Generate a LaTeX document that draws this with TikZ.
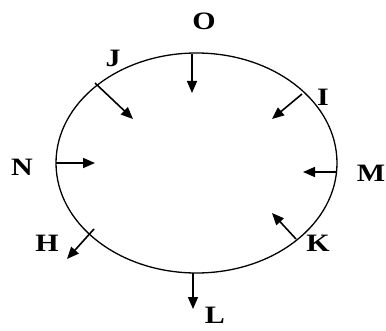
\documentclass[tikz,border=0pt]{standalone}
\usepackage{fontspec}
\setmainfont{Liberation Serif}
\usetikzlibrary{arrows.meta}
\tikzset{
  lbl/.style={inner sep=0pt, font=\fontsize{25}{25}\selectfont\bfseries},
  arr/.style={line width=1.6pt, -{Triangle[length=12pt,width=10pt]}},
  oval/.style={line width=1.3pt}
}
\newcommand{\wl}[1]{\scalebox{1.2}[1]{#1}}
\begin{document}
\begin{tikzpicture}[x=1pt,y=1pt]
\useasboundingbox (0,0) rectangle (386,330);
\draw[oval] (196.5,167) ellipse [x radius=140.5, y radius=110];
% labels
\node[lbl] (O) at (204,309) {\wl{O}};
\node[lbl] (J) at (113,272) {\wl{J}};
\node[lbl] (I) at (323,233) {\wl{I}};
\node[lbl] (N) at (22,163) {\wl{N}};
\node[lbl] (M) at (371,157) {\wl{M}};
\node[lbl] (H) at (47,87) {\wl{H}};
\node[lbl] (K) at (318,87) {\wl{K}};
\node[lbl] (L) at (215,15) {\wl{L}};
% arrow endpoints
\coordinate (o1) at (192,276); \coordinate (o2) at (192,237);
\coordinate (j1) at (95,247);  \coordinate (j2) at (133,211);
\coordinate (i1) at (302,236); \coordinate (i2) at (272,211);
\coordinate (n1) at (56,167);  \coordinate (n2) at (95,167);
\coordinate (m1) at (337,158); \coordinate (m2) at (303,158);
\coordinate (h1) at (94,101);  \coordinate (h2) at (67,71);
\coordinate (k1) at (296,91);  \coordinate (k2) at (272,117);
\coordinate (l1) at (193,57);  \coordinate (l2) at (193,21);
\draw[arr] (o1) -- (o2);
\draw[arr] (j1) -- (j2);
\draw[arr] (i1) -- (i2);
\draw[arr] (n1) -- (n2);
\draw[arr] (m1) -- (m2);
\draw[arr] (h1) -- (h2);
\draw[arr] (k1) -- (k2);
\draw[arr] (l1) -- (l2);
\end{tikzpicture}
\end{document}
